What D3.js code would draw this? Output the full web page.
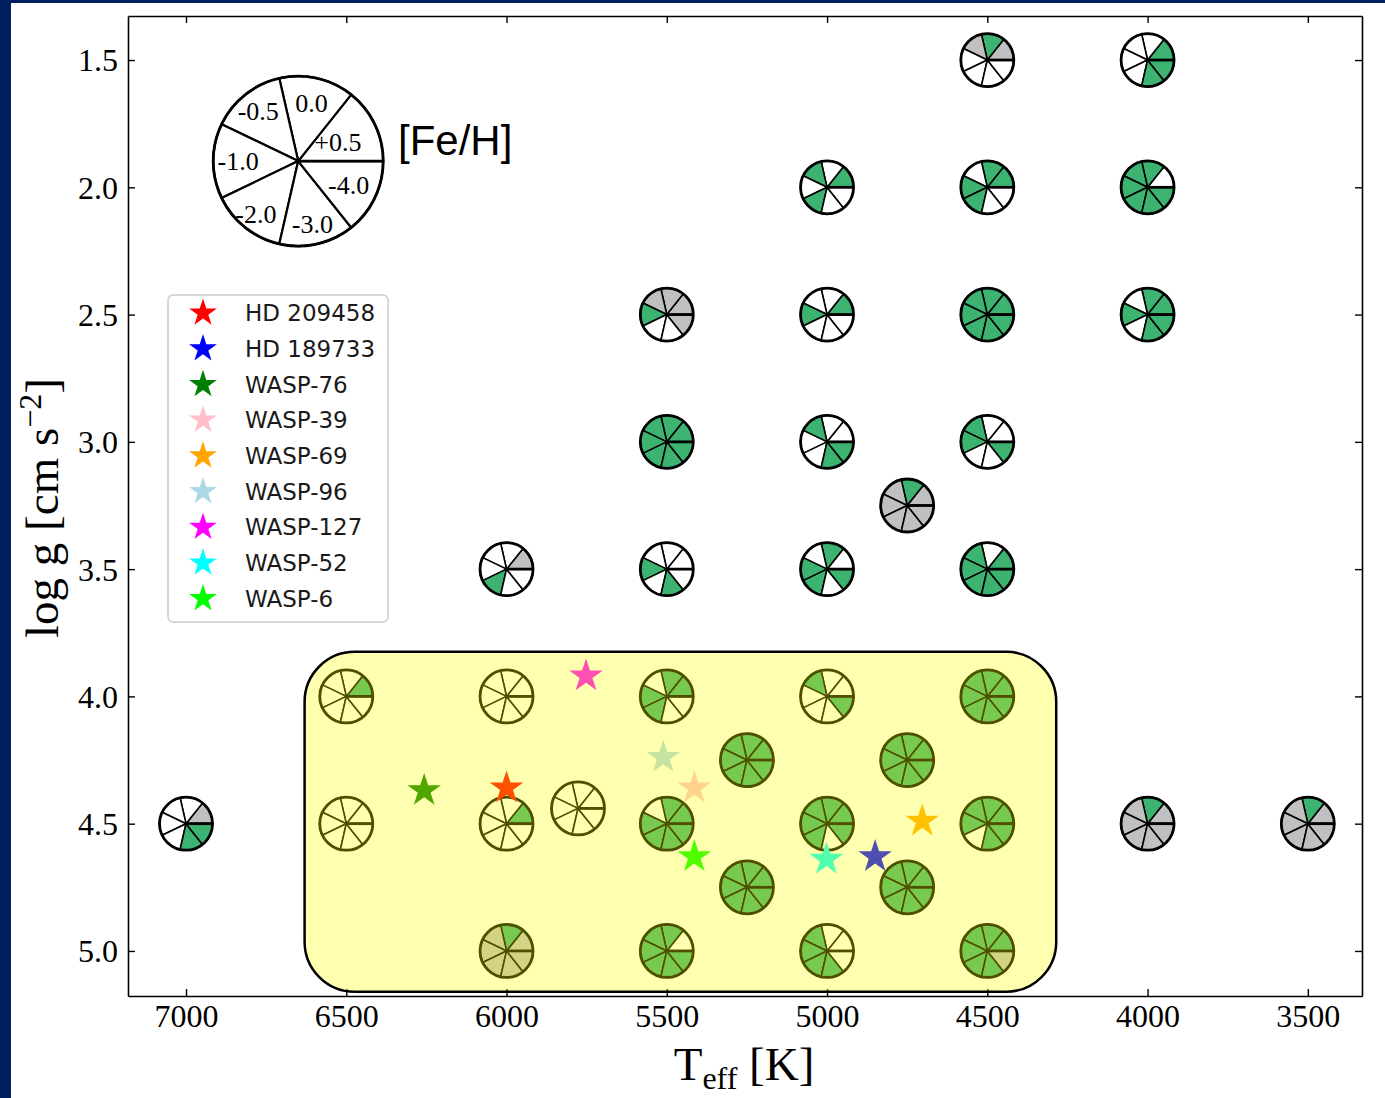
<!DOCTYPE html>
<html>
<head>
<meta charset="utf-8">
<script src="https://cdn.jsdelivr.net/npm/d3@7"></script>
<style>
	body { margin: 0; background: #ffffff; }
	svg { display: block; }
</style>
</head>
<body>
<div id="chart"></div>
<script>

// Axis ticks
const teffTicks = [7000, 6500, 6000, 5500, 5000, 4500, 4000, 3500];
const loggTicks = [1.5, 2.0, 2.5, 3.0, 3.5, 4.0, 4.5, 5.0];

// Metallicity slices, counter-clockwise starting at 3 o'clock
const fehLabels = ["+0.5", "0.0", "-0.5", "-1.0", "-2.0", "-3.0", "-4.0"];

// Model grid points: g = green, w = white, s = grey
const pieTeff = [4500, 4000,
	5000, 4500, 4000,
	5500, 5000, 4500, 4000,
	5500, 5000, 4500,
	4750,
	6000, 5500, 5000, 4500,
	6500, 6000, 5500, 5000, 4500,
	5250, 4750,
	5777,
	7000, 6500, 6000, 5500, 5000, 4500, 4000, 3500,
	5250, 4750,
	6000, 5500, 5000, 4500];
const pieLogg = [1.5, 1.5,
	2.0, 2.0, 2.0,
	2.5, 2.5, 2.5, 2.5,
	3.0, 3.0, 3.0,
	3.25,
	3.5, 3.5, 3.5, 3.5,
	4.0, 4.0, 4.0, 4.0, 4.0,
	4.25, 4.25,
	4.44,
	4.5, 4.5, 4.5, 4.5, 4.5, 4.5, 4.5, 4.5,
	4.75, 4.75,
	5.0, 5.0, 5.0, 5.0];
const pieFill = ["sgswwww", "gwwwwgg",
	"gwgwgww", "ggwggww", "wgggggg",
	"sssgwws", "gwwgwww", "ggggggg", "ggwgwgg",
	"ggggggg", "wwgwwgg", "wwggwwg",
	"sgsssss",
	"swwwgww", "wwwgwgw", "wgwggwg", "gwggggg",
	"gwwwwww", "wwwwwww", "ggwggww", "wwgwwwg", "ggggggg",
	"ggggggg", "ggggggg",
	"wwwwwww",
	"swwwwgg", "wwwwwww", "gwwwwww", "ggwgggg", "gggggwg", "ggggwgg", "sgsssss", "sgsssss",
	"ggggggg", "ggggggg",
	"sgsssss", "wgggggg", "wwggggw", "ggggggs"];

// Host stars of observed planets
const starNames = ["HD 209458", "HD 189733", "WASP-76", "WASP-39", "WASP-69", "WASP-96", "WASP-127", "WASP-52", "WASP-6"];
const starTeff = [6000, 4850, 6257, 5414, 4703, 5511, 5752, 5002, 5414];
const starLogg = [4.36, 4.63, 4.37, 4.36, 4.49, 4.24, 3.92, 4.64, 4.63];
const starColors = ["#ff0000", "#0000ff", "#008000", "#ffc0cb", "#ffa500", "#add8e6", "#ff00ff", "#00ffff", "#00ff00"];

// Highlighted dwarf region (Teff, logg corners)
const boxTeff = [6630, 4285];
const boxLogg = [3.825, 5.16];

const W = 1385, H = 1098;
const margin = { top: 16, right: 23, bottom: 102, left: 128 };
const serif = "'Liberation Serif', 'DejaVu Serif', serif";

const svg = d3.select("#chart").append("svg")
	.attr("width", W)
	.attr("height", H);

// slide frame
svg.append("rect").attr("width", W).attr("height", H).attr("fill", "#ffffff");
svg.append("rect").attr("width", 11).attr("height", H).attr("fill", "#002060");
svg.append("rect").attr("width", W).attr("height", 3).attr("fill", "#002060");

const x = d3.scaleLinear()
	.domain([7181, 3331])
	.range([margin.left, W - margin.right]);

const y = d3.scaleLinear()
	.domain([1.327, 5.177])
	.range([margin.top, H - margin.bottom]);

const colorOf = { g: "#3cb371", w: "#ffffff", s: "#c0c0c0" };

// Axes, ticks pointing inward on all four sides
function styleAxis(sel) {
	sel.select(".domain").attr("stroke", "#000").attr("stroke-width", 1.6);
	sel.selectAll(".tick line").attr("stroke", "#000").attr("stroke-width", 1.4);
	sel.selectAll(".tick text")
		.attr("fill", "#000")
		.style("font-family", serif)
		.style("font-size", "32px");
}

svg.append("g")
	.attr("transform", "translate(0," + (H - margin.bottom) + ")")
	.call(d3.axisBottom(x).tickValues(teffTicks).tickFormat(d3.format("d"))
		.tickSizeInner(-7).tickSizeOuter(0).tickPadding(8))
	.call(styleAxis);

svg.append("g")
	.attr("transform", "translate(0," + margin.top + ")")
	.call(d3.axisTop(x).tickValues(teffTicks).tickFormat("")
		.tickSizeInner(-7).tickSizeOuter(0))
	.call(styleAxis);

svg.append("g")
	.attr("transform", "translate(" + margin.left + ",0)")
	.call(d3.axisLeft(y).tickValues(loggTicks).tickFormat(d3.format(".1f"))
		.tickSizeInner(-7).tickSizeOuter(0).tickPadding(10))
	.call(styleAxis)
	.selectAll(".tick text").attr("dy", "0.34em");

svg.append("g")
	.attr("transform", "translate(" + (W - margin.right) + ",0)")
	.call(d3.axisRight(y).tickValues(loggTicks).tickFormat("")
		.tickSizeInner(-7).tickSizeOuter(0))
	.call(styleAxis);

// Axis labels
const xLab = svg.append("text")
	.attr("x", 744)
	.attr("y", 1080)
	.attr("text-anchor", "middle")
	.style("font-family", serif)
	.style("font-size", "47px");
xLab.append("tspan").text("T");
xLab.append("tspan").attr("dy", 9).style("font-size", "32px").text("eff");
xLab.append("tspan").attr("dy", -9).text(" [K]");

const yLab = svg.append("text")
	.attr("transform", "translate(58,508) rotate(-90)")
	.attr("text-anchor", "middle")
	.style("font-family", serif)
	.style("font-size", "47px");
yLab.append("tspan").text("log g [cm s");
yLab.append("tspan").attr("dy", -17).style("font-size", "32px").text("\u22122");
yLab.append("tspan").attr("dy", 17).text("]");

// pie layout: 7 equal slices, counter-clockwise from 3 o'clock
const pie = d3.pie().value(1).sort(null)
	.startAngle(Math.PI / 2)
	.endAngle(Math.PI / 2 - 2 * Math.PI);

function drawPie(g, fills, r, thin, thick) {
	const arc = d3.arc().innerRadius(0).outerRadius(r);
	g.selectAll("path")
		.data(pie(fehLabels))
		.enter().append("path")
		.attr("d", arc)
		.attr("fill", (d, i) => colorOf[fills[i]])
		.attr("stroke", "#000")
		.attr("stroke-width", thin)
		.attr("stroke-linejoin", "round");
	g.append("circle")
		.attr("r", r)
		.attr("fill", "none")
		.attr("stroke", "#000")
		.attr("stroke-width", thick);
	g.append("line")
		.attr("x1", 0).attr("x2", r)
		.attr("stroke", "#000")
		.attr("stroke-width", thick);
}

// Key pie for [Fe/H]
const keyG = svg.append("g")
	.attr("transform", "translate(" + x(6650) + "," + y(1.897) + ")");
drawPie(keyG, "wwwwwww", 85, 2.2, 2.8);

const labelR = [44, 60, 64, 60, 68, 64, 56];
keyG.selectAll(".flab")
	.data(pie(fehLabels))
	.enter().append("text")
	.attr("class", "flab")
	.attr("x", (d, i) => Math.sin((d.startAngle + d.endAngle) / 2) * labelR[i])
	.attr("y", (d, i) => -Math.cos((d.startAngle + d.endAngle) / 2) * labelR[i])
	.attr("text-anchor", "middle")
	.attr("dy", "0.35em")
	.style("font-family", serif)
	.style("font-size", "26px")
	.text(d => d.data);

svg.append("text")
	.attr("x", 398)
	.attr("y", 155)
	.style("font-family", "'Liberation Sans', Arial, sans-serif")
	.style("font-size", "42px")
	.text("[Fe/H]");

// Legend
const legend = svg.append("g").attr("transform", "translate(168,295)");
legend.append("rect")
	.attr("width", 220)
	.attr("height", 327)
	.attr("rx", 5)
	.attr("fill", "#ffffff")
	.attr("stroke", "#cccccc")
	.attr("stroke-width", 1.5);

const legItems = legend.selectAll(".item")
	.data(starNames)
	.enter().append("g")
	.attr("class", "item")
	.attr("transform", (d, i) => "translate(0," + (18 + i * 35.7) + ")");

legItems.append("path")
	.attr("transform", "translate(35,0)")
	.attr("d", d3.symbol().type(d3.symbolStar).size(240))
	.attr("fill", (d, i) => starColors[i]);

legItems.append("text")
	.attr("x", 77)
	.attr("dy", "0.36em")
	.style("font-family", "'DejaVu Sans', sans-serif")
	.style("font-size", "23px")
	.attr("fill", "#1a1a1a")
	.text(d => d);

// Model grid pies
const pies = svg.append("g").selectAll("g")
	.data(pieFill)
	.enter().append("g")
	.attr("transform", (d, i) => "translate(" + x(pieTeff[i]) + "," + y(pieLogg[i]) + ")");
pies.each(function (d) { drawPie(d3.select(this), d, 26.5, 1.6, 2.8); });

// Stars
const defs = svg.append("defs");
defs.append("filter").attr("id", "soft")
	.append("feGaussianBlur").attr("stdDeviation", 0.7);

svg.append("g").selectAll("path")
	.data(starNames)
	.enter().append("path")
	.attr("transform", (d, i) => "translate(" + x(starTeff[i]) + "," + y(starLogg[i]) + ")")
	.attr("d", d3.symbol().type(d3.symbolStar).size(350))
	.attr("fill", (d, i) => starColors[i])
	.attr("filter", "url(#soft)");

// Translucent yellow box over the dwarf region
svg.append("rect")
	.attr("x", x(boxTeff[0]))
	.attr("y", y(boxLogg[0]))
	.attr("width", x(boxTeff[1]) - x(boxTeff[0]))
	.attr("height", y(boxLogg[1]) - y(boxLogg[0]))
	.attr("rx", 50)
	.attr("fill", "#ffff00")
	.attr("fill-opacity", 0.31)
	.attr("stroke", "#000")
	.attr("stroke-width", 2.5);

</script>
</body>
</html>
